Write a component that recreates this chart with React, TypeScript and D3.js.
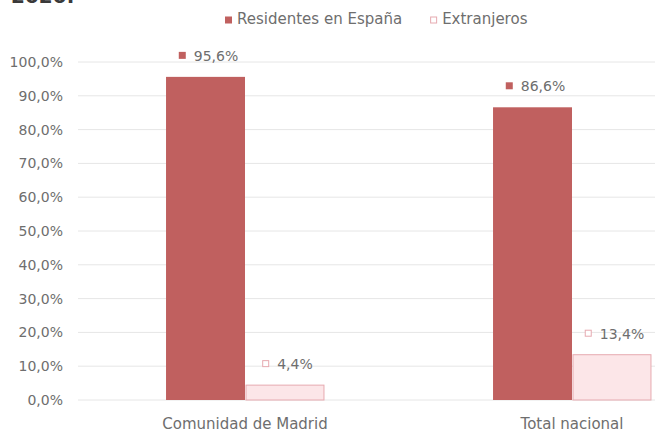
import { useEffect, useRef } from 'react';
import * as d3 from 'd3';

const categories = ['Comunidad de Madrid', 'Total nacional'];
const seriesNames = ['Residentes en España', 'Extranjeros'];
const residentes = [95.6, 86.6];
const extranjeros = [4.4, 13.4];
const yTicks = [0, 10, 20, 30, 40, 50, 60, 70, 80, 90, 100];

const W = 655;
const H = 434;
const RED = '#c0605f';
const PINK_FILL = '#fce6e8';
const PINK_STROKE = '#e6aab0';
const TEXT = '#6e6e6e';
const FONT = '"DejaVu Sans", sans-serif';

const fmt = (v: number) => v.toFixed(1).replace('.', ',') + '%';

export default function App() {
  const svgRef = useRef<SVGSVGElement>(null);

  useEffect(() => {
    document.body.style.margin = '0';
    if (!svgRef.current) return;
    const svg = d3.select(svgRef.current);
    svg.selectAll('*').remove();

    const y = d3.scaleLinear().domain([0, 100]).range([400, 62]);
    const x0 = d3.scaleBand<string>()
      .domain(categories)
      .range([81.5, 735.5])
      .paddingInner(0.517)
      .paddingOuter(0.2585);
    const x1 = d3.scaleBand<string>()
      .domain(seriesNames)
      .range([0, x0.bandwidth()]);

    // title remnant at the very top (cut off in the source too)
    svg.append('text')
      .attr('x', 11)
      .attr('y', 3)
      .attr('font-family', FONT)
      .attr('font-size', 20)
      .attr('font-weight', 'bold')
      .attr('fill', '#3a3a3a')
      .text('2020.');

    // gridlines + y labels
    const grid = svg.append('g');
    yTicks.forEach(t => {
      grid.append('line')
        .attr('x1', 78).attr('x2', W)
        .attr('y1', y(t)).attr('y2', y(t))
        .attr('stroke', '#e6e6e6')
        .attr('stroke-width', 1);
      grid.append('text')
        .attr('x', 63)
        .attr('y', y(t) + 5)
        .attr('text-anchor', 'end')
        .attr('font-family', FONT)
        .attr('font-size', 14)
        .attr('fill', TEXT)
        .text(fmt(t));
    });

    const rows = categories.map((c, i) => ({ cat: c, values: [residentes[i], extranjeros[i]] }));

    const groups = svg.append('g')
      .selectAll('g')
      .data(rows)
      .enter()
      .append('g')
      .attr('transform', d => `translate(${x0(d.cat)},0)`);

    groups.each(function (d) {
      const g = d3.select(this);
      d.values.forEach((v, j) => {
        const name = seriesNames[j];
        const bx = x1(name)!;
        const bw = x1.bandwidth();
        g.append('rect')
          .attr('x', j === 0 ? bx : bx + 1)
          .attr('y', y(v))
          .attr('width', j === 0 ? bw : bw - 1)
          .attr('height', y(0) - y(v))
          .attr('fill', j === 0 ? RED : PINK_FILL)
          .attr('stroke', j === 0 ? 'none' : PINK_STROKE)
          .attr('stroke-width', 1);

        // data label: marker + value, centered over bar
        const base = y(v) - 16;
        const label = g.append('g');
        const txt = label.append('text')
          .attr('font-family', FONT)
          .attr('font-size', 14)
          .attr('fill', TEXT)
          .attr('y', base)
          .text(fmt(v));
        const tw = (txt.node() as SVGTextElement).getComputedTextLength();
        const total = 7 + 8 + tw;
        const start = bx + bw / 2 + 3 - total / 2;
        txt.attr('x', start + 15);
        label.append('rect')
          .attr('x', start + (j === 0 ? 0 : 0.5))
          .attr('y', base - (j === 0 ? 9 : 8.5))
          .attr('width', j === 0 ? 7 : 6)
          .attr('height', j === 0 ? 7 : 6)
          .attr('fill', j === 0 ? RED : '#fff')
          .attr('stroke', j === 0 ? 'none' : PINK_STROKE);
      });
    });

    // category labels
    svg.append('g')
      .selectAll('text')
      .data(categories)
      .enter()
      .append('text')
      .attr('x', d => x0(d)! + x0.bandwidth() / 2)
      .attr('y', 429)
      .attr('text-anchor', 'middle')
      .attr('font-family', FONT)
      .attr('font-size', 15)
      .attr('fill', TEXT)
      .text(d => d);

    // legend
    const legend = svg.append('g');
    let lx = 225;
    seriesNames.forEach((name, j) => {
      legend.append('rect')
        .attr('x', lx + (j === 0 ? 0 : 0.5))
        .attr('y', j === 0 ? 16.5 : 17)
        .attr('width', j === 0 ? 7 : 6)
        .attr('height', j === 0 ? 7 : 6)
        .attr('fill', j === 0 ? RED : '#fff')
        .attr('stroke', j === 0 ? 'none' : PINK_STROKE);
      const t = legend.append('text')
        .attr('x', lx + 12)
        .attr('y', 24)
        .attr('font-family', FONT)
        .attr('font-size', 15)
        .attr('fill', TEXT)
        .text(name);
      lx += 12 + (t.node() as SVGTextElement).getComputedTextLength() + 28;
    });
  }, []);

  return (
    <svg
      ref={svgRef}
      width={W}
      height={H}
      style={{ display: 'block', background: '#fff' }}
    />
  );
}
